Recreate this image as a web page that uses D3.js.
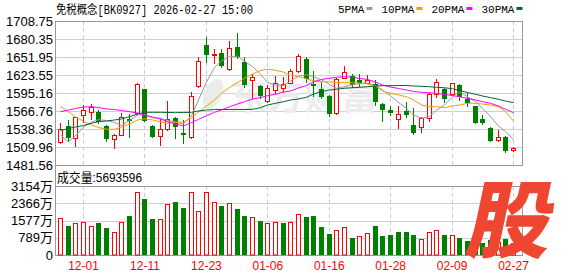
<!DOCTYPE html>
<html lang="zh">
<head>
<meta charset="utf-8">
<title>免税概念[BK0927]</title>
<script src="https://d3js.org/d3.v7.min.js"></script>
<style>
  body { margin: 0; background: #fff; }
  svg { display: block; }
  text { font-family: "Liberation Sans", "Noto Sans CJK SC", sans-serif; }
</style>
</head>
<body>
<div id="chart"></div>
<script>

// trading days
var dates = ["2025-11-26","2025-11-27","2025-11-28","2025-12-01","2025-12-02","2025-12-03","2025-12-04","2025-12-05","2025-12-08","2025-12-09",
  "2025-12-10","2025-12-11","2025-12-12","2025-12-15","2025-12-16","2025-12-17","2025-12-18","2025-12-19","2025-12-22","2025-12-23",
  "2025-12-24","2025-12-25","2025-12-26","2025-12-29","2025-12-30","2025-12-31","2026-01-05","2026-01-06","2026-01-07","2026-01-08",
  "2026-01-09","2026-01-12","2026-01-13","2026-01-14","2026-01-15","2026-01-16","2026-01-19","2026-01-20","2026-01-21","2026-01-22",
  "2026-01-23","2026-01-26","2026-01-27","2026-01-28","2026-01-29","2026-01-30","2026-02-02","2026-02-03","2026-02-04","2026-02-05",
  "2026-02-06","2026-02-09","2026-02-10","2026-02-11","2026-02-12","2026-02-13","2026-02-24","2026-02-25","2026-02-26","2026-02-27"];

// daily prices
var open = [1517.4,1543.1,1523.7,1560.4,1564.7,1564.7,1543.1,1522.1,1529.6,1554.6,
  1563.6,1601.0,1543.1,1527.3,1537.9,1555.2,1532.5,1526.2,1606.7,1670.9,
  1654.5,1657.8,1632.5,1667.7,1644.5,1615.6,1606.2,1582.5,1599.9,1602.6,
  1611.4,1629.1,1648.8,1608.6,1601.0,1590.4,1563.6,1619.6,1622.0,1614.9,
  1611.7,1609.4,1577.8,1568.3,1553.6,1566.7,1544.7,1542.0,1555.2,1592.8,
  1601.0,1593.1,1607.8,1584.9,1574.6,1553.6,1539.9,1520.5,1525.2,1505.2];
var high = [1547.4,1552.5,1557.8,1575.5,1577.8,1568.3,1544.7,1530.4,1563.6,1561.5,
  1610.9,1601.5,1544.2,1553.6,1582.5,1557.8,1552.5,1596.7,1652.0,1683.5,
  1664.6,1664.6,1677.2,1689.8,1652.0,1625.1,1607.8,1607.8,1622.0,1620.4,
  1633.0,1656.7,1652.0,1629.1,1612.5,1592.0,1618.8,1637.7,1625.1,1625.1,
  1623.5,1615.6,1579.4,1574.6,1575.4,1580.2,1571.0,1557.3,1595.9,1617.2,
  1602.6,1611.7,1609.4,1595.9,1575.4,1561.2,1541.0,1536.0,1527.3,1509.5];
var low = [1515.8,1519.9,1512.0,1549.9,1554.1,1547.3,1519.4,1507.6,1528.9,1526.5,
  1562.0,1551.0,1525.2,1513.1,1536.8,1524.1,1515.8,1523.6,1605.4,1643.3,
  1642.5,1636.6,1631.4,1649.9,1605.4,1587.3,1587.3,1581.4,1595.2,1596.7,
  1610.4,1627.8,1613.0,1590.4,1586.8,1559.3,1562.8,1618.3,1604.6,1606.2,
  1610.9,1576.2,1551.7,1560.4,1539.2,1557.3,1530.0,1533.6,1550.2,1588.8,
  1580.9,1592.0,1584.1,1573.9,1547.8,1546.2,1519.4,1519.9,1501.6,1504.1];
var close = [1537.9,1523.7,1556.8,1568.3,1572.6,1548.9,1523.3,1528.4,1557.8,1550.9,
  1609.3,1551.4,1526.2,1537.9,1553.6,1541.0,1529.5,1590.4,1645.6,1655.5,
  1656.5,1638.5,1665.4,1652.4,1607.0,1620.9,1590.9,1603.0,1610.4,1608.9,
  1629.9,1654.3,1616.8,1606.2,1589.3,1562.8,1616.8,1628.8,1607.8,1610.9,
  1615.6,1580.9,1568.3,1563.0,1562.5,1561.0,1531.3,1555.2,1593.6,1613.0,
  1584.9,1610.4,1589.3,1578.9,1548.6,1547.3,1519.9,1526.2,1504.1,1507.9];

// volume, in 万
var volume = [1678,1326,1449,1495,1312,1463,1234,1051,1495,1783,
  2866,2560,1646,1632,2318,2423,2140,2900,2034,2893,
  2437,2240,2392,2088,1783,1722,1554,1448,1494,1463,
  1494,1859,1722,1783,1265,960,1127,1265,777,853,
  990,1326,868,914,1067,1067,914,731,1051,1143,
  914,899,777,655,640,548,700,600,731,569];

// moving averages
var ma5 = [1528.9,1518.3,1527.6,1541.5,1549.4,1553.0,1551.8,1548.6,1543.9,1551.8,
  1560.4,1560.9,1556.0,1555.2,1552.1,1549.4,1546.3,1559.7,1584.1,1612.5,
  1635.4,1645.6,1652.4,1653.5,1645.6,1636.6,1625.1,1611.7,1607.8,1607.0,
  1614.1,1621.5,1624.0,1620.9,1616.0,1608.6,1602.6,1605.1,1608.2,1610.1,
  1610.1,1607.0,1599.9,1590.7,1580.2,1571.0,1560.4,1555.2,1557.8,1568.3,
  1576.2,1589.3,1597.2,1589.3,1581.4,1571.0,1557.8,1543.1,1534.1,1522.1];
var ma10 = [1574.2,1565.6,1557.3,1550.5,1544.7,1540.7,1538.0,1538.0,1541.5,1546.3,
  1552.6,1554.5,1552.6,1549.7,1547.4,1549.1,1549.4,1556.0,1565.2,1574.7,
  1584.1,1594.7,1603.8,1611.7,1618.4,1625.1,1630.6,1632.7,1631.0,1628.0,
  1622.8,1621.2,1617.6,1614.4,1613.2,1612.5,1611.7,1611.4,1611.4,1610.5,
  1609.4,1606.2,1598.3,1594.7,1592.0,1589.3,1584.1,1576.2,1573.5,1573.5,
  1572.0,1574.7,1576.2,1578.9,1578.9,1577.8,1576.2,1573.5,1565.6,1551.0];
var ma20 = [1565.5,1568.3,1570.7,1573.1,1573.5,1572.3,1569.9,1569.1,1567.6,1565.6,
  1563.6,1560.4,1557.3,1554.1,1549.9,1546.3,1543.1,1548.6,1553.6,1559.3,
  1564.7,1568.3,1573.5,1577.8,1581.4,1585.7,1587.8,1590.9,1593.1,1596.7,
  1598.3,1603.0,1607.0,1612.5,1616.5,1618.4,1620.0,1620.9,1620.0,1618.0,
  1616.5,1612.5,1607.8,1604.6,1602.3,1599.9,1597.5,1596.3,1595.6,1594.7,
  1593.1,1590.9,1589.3,1586.8,1584.1,1581.4,1578.9,1574.7,1569.5,1564.1];
var ma30 = [1536.0,1539.2,1541.5,1543.9,1547.4,1549.9,1551.0,1552.6,1554.1,1557.8,
  1562.0,1564.7,1564.7,1564.7,1564.4,1564.1,1564.4,1564.7,1566.8,1568.3,
  1569.1,1569.1,1569.1,1569.1,1569.1,1569.4,1572.0,1576.2,1578.9,1581.4,
  1584.1,1585.7,1588.4,1593.6,1597.2,1599.9,1601.0,1602.6,1603.5,1604.1,
  1605.1,1606.2,1606.7,1606.7,1607.0,1607.0,1606.2,1605.7,1605.1,1604.1,
  1603.5,1601.8,1599.1,1595.9,1593.1,1590.4,1587.8,1585.2,1582.5,1579.9];

// axis ticks
var priceTicks = [1481.56, 1509.96, 1538.36, 1566.76, 1595.16, 1623.55, 1651.95, 1680.35, 1708.75];
var volTicks = [0, 789, 1577, 2366, 3154];
var dateTicks = ["2025-12-01","2025-12-11","2025-12-23","2026-01-06","2026-01-16","2026-01-28","2026-02-09","2026-02-27"];

// legend
var maNames = ["5PMA", "10PMA", "20PMA", "30PMA"];
var maColors = ["#999999", "#f0a000", "#ff00ff", "#006633"];
var maSeries = [ma5, ma10, ma20, ma30];

var title = "免税概念[BK0927] 2026-02-27 15:00";
var lastVolume = "5693596";

// layout
var W = 578, H = 276,
    left = 55, right = 522,
    pTop = 21, pBottom = 165,
    vTop = 186, vBottom = 255;

var red = "#ff0000", green = "#008000";

var svg = d3.select("#chart").append("svg")
  .attr("width", W)
  .attr("height", H);

// scales
var x = d3.scalePoint().domain(dates).range([60, 513]);
var y = d3.scaleLinear().domain([1481.56, 1708.75]).range([pBottom, pTop]);
var yv = d3.scaleLinear().domain([0, 3154]).range([vBottom, vTop]);

function cx(i) { return Math.round(x(dates[i])) + 0.5; }
function crisp(v) { return Math.round(v) + 0.5; }

// horizontal grid
svg.append("g").selectAll("line")
  .data(priceTicks.slice(1, -1))
  .join("line")
  .attr("x1", left).attr("x2", right)
  .attr("y1", function(d) { return crisp(y(d)); })
  .attr("y2", function(d) { return crisp(y(d)); })
  .attr("stroke", "#d0d0d0");

svg.append("g").selectAll("line")
  .data(volTicks.slice(1, -1))
  .join("line")
  .attr("x1", left).attr("x2", right)
  .attr("y1", function(d) { return crisp(yv(d)); })
  .attr("y2", function(d) { return crisp(yv(d)); })
  .attr("stroke", "#d0d0d0");

// vertical dashed grid
var vg = svg.append("g");
[[pTop, pBottom], [vTop, vBottom]].forEach(function(r) {
  vg.append("g").selectAll("line")
    .data(dateTicks)
    .join("line")
    .attr("x1", function(d) { return crisp(x(d)); })
    .attr("x2", function(d) { return crisp(x(d)); })
    .attr("y1", r[0]).attr("y2", r[1])
    .attr("stroke", "#cccccc")
    .attr("stroke-dasharray", "4,3");
});

// watermark
var wm = svg.append("g").attr("fill", "#ececec");
wm.append("ellipse")
  .attr("cx", 213).attr("cy", 94).attr("rx", 9).attr("ry", 16)
  .attr("transform", "rotate(25,213,94)");
wm.append("text")
  .attr("x", 230).attr("y", 110)
  .attr("font-size", 37)
  .attr("font-weight", 700)
  .style("font-family", "'Noto Sans CJK SC'")
  .text("东方财富");

// frame
var frame = svg.append("g").attr("stroke", "#999999").attr("fill", "none");
frame.append("rect")
  .attr("x", left + 0.5).attr("y", pTop + 0.5)
  .attr("width", right - left).attr("height", pBottom - pTop);
frame.append("line")
  .attr("x1", left + 0.5).attr("x2", left + 0.5)
  .attr("y1", pTop).attr("y2", vBottom + 1);
frame.append("rect")
  .attr("x", left + 0.5).attr("y", vTop + 0.5)
  .attr("width", right - left).attr("height", vBottom - vTop);

// candles
var idx = d3.range(dates.length);
var candles = svg.append("g").selectAll("g")
  .data(idx)
  .join("g")
  .attr("stroke", function(i) { return close[i] >= open[i] ? red : green; });

candles.append("line")
  .attr("x1", cx).attr("x2", cx)
  .attr("y1", function(i) { return Math.round(y(high[i])); })
  .attr("y2", function(i) { return Math.round(y(low[i])) + 1; });

candles.append("rect")
  .attr("x", function(i) { return close[i] >= open[i] ? cx(i) - 2 : cx(i) - 2.5; })
  .attr("width", function(i) { return close[i] >= open[i] ? 4 : 5; })
  .attr("y", function(i) {
    var t = Math.round(y(Math.max(open[i], close[i])));
    return close[i] >= open[i] ? t + 0.5 : t;
  })
  .attr("height", function(i) {
    var h = Math.round(y(Math.min(open[i], close[i]))) - Math.round(y(Math.max(open[i], close[i])));
    return Math.max(h, 1);
  })
  .attr("fill", function(i) { return close[i] >= open[i] ? "#fff" : green; })
  .attr("stroke-width", function(i) { return close[i] >= open[i] ? 1 : 0; });

// moving average lines
maSeries.forEach(function(s, k) {
  svg.append("path")
    .datum(idx)
    .attr("fill", "none")
    .attr("stroke", maColors[k])
    .attr("stroke-width", 1)
    .attr("d", d3.line().x(cx).y(function(i) { return y(s[i]); }));
});

// volume bars: colour follows close against previous close
function volUp(i) { return i === 0 ? close[i] >= open[i] : close[i] >= close[i - 1]; }

svg.append("g").selectAll("rect")
  .data(idx)
  .join("rect")
  .attr("x", function(i) { return volUp(i) ? cx(i) - 2 : cx(i) - 2.5; })
  .attr("width", function(i) { return volUp(i) ? 4 : 5; })
  .attr("y", function(i) {
    var t = Math.round(yv(volume[i]));
    return volUp(i) ? t + 0.5 : t;
  })
  .attr("height", function(i) { return vBottom - Math.round(yv(volume[i])) - (volUp(i) ? 0.5 : 0); })
  .attr("fill", function(i) { return volUp(i) ? "#fff" : green; })
  .attr("stroke", function(i) { return volUp(i) ? red : "none"; });

// axes
var yAxis = svg.append("g")
  .attr("transform", "translate(" + left + ",0)")
  .call(d3.axisLeft(y).tickValues(priceTicks).tickFormat(d3.format(".2f")).tickSize(0).tickPadding(2));

var vAxis = svg.append("g")
  .attr("transform", "translate(" + left + ",0)")
  .call(d3.axisLeft(yv).tickValues(volTicks)
    .tickFormat(function(d) { return d ? d + "万" : "0"; })
    .tickSize(0).tickPadding(2));

var xAxis = svg.append("g")
  .attr("transform", "translate(0," + vBottom + ")")
  .call(d3.axisBottom(x).tickValues(dateTicks)
    .tickFormat(function(d) { return d.slice(5); })
    .tickSize(0).tickPadding(6));

[yAxis, vAxis, xAxis].forEach(function(a) {
  a.select(".domain").remove();
  a.selectAll("text")
    .attr("font-size", 13)
    .style("font-family", "'Liberation Sans','Noto Sans CJK SC'")
    .attr("fill", "#000");
});
xAxis.selectAll("text").attr("fill", red).attr("font-size", 12);

// title
svg.append("text")
  .attr("x", 56).attr("y", 14)
  .attr("font-size", 12)
  .attr("textLength", 197)
  .attr("lengthAdjust", "spacingAndGlyphs")
  .style("font-family", "'Liberation Mono','Noto Sans CJK SC'")
  .attr("fill", "#000")
  .text(title);

// legend
var lx = 338;
maNames.forEach(function(n, k) {
  var t = svg.append("text")
    .attr("x", lx).attr("y", 13)
    .attr("font-size", 11)
    .style("font-family", "'Liberation Mono'")
    .attr("fill", "#000")
    .text(n);
  var w = t.node().getComputedTextLength();
  svg.append("rect")
    .attr("x", lx + w + 2).attr("y", 7)
    .attr("width", 6).attr("height", 3)
    .attr("fill", maColors[k]);
  lx += w + 17;
});

// volume label
svg.append("text")
  .attr("x", 57).attr("y", 182)
  .attr("font-size", 13)
  .attr("textLength", 85)
  .attr("lengthAdjust", "spacingAndGlyphs")
  .style("font-family", "'Liberation Sans','Noto Sans CJK SC'")
  .attr("fill", "#000")
  .text("成交量:" + lastVolume);

// corner logo
svg.append("text")
  .attr("transform", "translate(506,251) skewX(-12)")
  .attr("text-anchor", "middle")
  .attr("font-size", 84)
  .attr("font-weight", 900)
  .style("font-family", "'Noto Sans CJK SC'")
  .attr("fill", "#ef4631")
  .text("股");

</script>
</body>
</html>
